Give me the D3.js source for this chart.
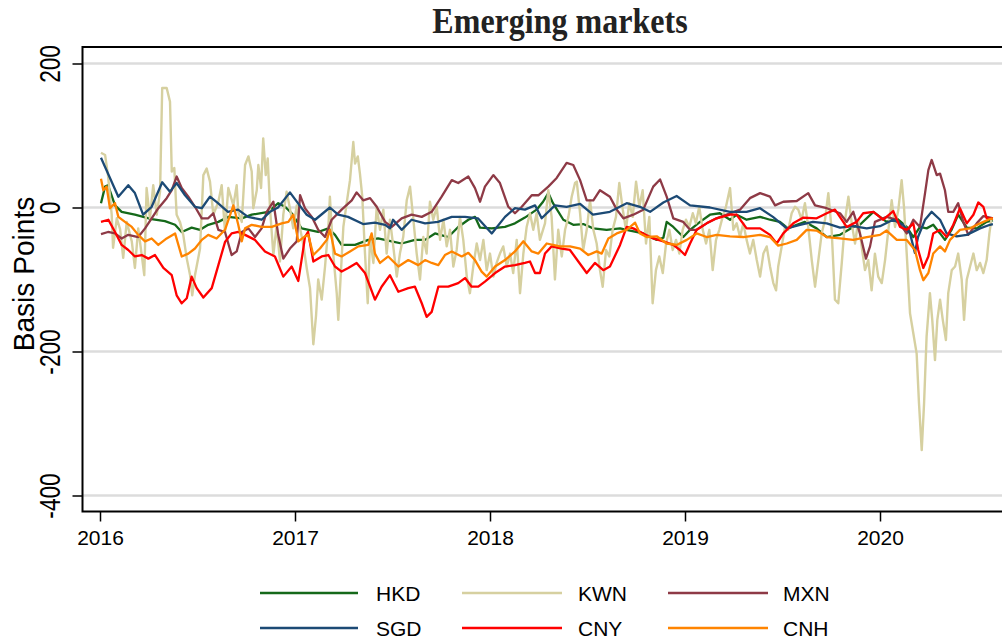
<!DOCTYPE html>
<html><head><meta charset="utf-8">
<script src="https://cdn.jsdelivr.net/npm/d3@7"></script>
<style>body{margin:0;background:#fff}svg{display:block}</style>
</head><body><svg id="c" width="1002" height="641"></svg>
<script>
const chartTitle = "Emerging markets";
const yTitle = "Basis Points";
const xTicks = [2016, 2017, 2018, 2019, 2020];
const xTickLabels = ["2016", "2017", "2018", "2019", "2020"];
const yTicks = [200, 0, -200, -400];
const yTickLabels = ["200", "0", "-200", "-400"];
const legendOrder = ["HKD", "KWN", "MXN", "SGD", "CNY", "CNH"];

const hkdT = [2016.005,2016.026,2016.041,2016.077,2016.111,2016.179,2016.222,2016.265,2016.333,2016.385,2016.419,2016.470,2016.513,2016.555,2016.607,2016.658,2016.727,2016.778,2016.863,2016.914,2016.949,2016.983,
2017.034,2017.118,2017.171,2017.205,2017.239,2017.308,2017.376,2017.426,2017.496,2017.547,2017.615,2017.667,2017.718,2017.786,2017.837,2017.889,2017.923,2017.949,
2018.009,2018.077,2018.128,2018.179,2018.239,2018.272,2018.299,2018.323,2018.376,2018.427,2018.478,2018.530,2018.598,2018.667,2018.718,2018.786,2018.855,2018.889,2018.906,2018.940,2018.991,
2019.026,2019.077,2019.128,2019.179,2019.231,2019.265,2019.316,2019.385,2019.436,2019.487,2019.528,2019.573,2019.615,2019.675,2019.727,2019.795,2019.863,2019.897,2019.966,
2020.034,2020.086,2020.137,2020.171,2020.205,2020.239,2020.273,2020.308,2020.333,2020.367,2020.401,2020.445,2020.496,2020.547,2020.579];
const hkdV = [6,29,31,3,-6,-10,-13,-16,-19,-24,-34,-28,-31,-24,-20,-13,-15,-10,-6,6,1,-8,
-29,-34,-29,-38,-52,-52,-45,-43,-47,-50,-45,-45,-36,-41,-27,-17,-13,-28,
-29,-27,-22,-14,-3,8,20,6,-17,-24,-23,-29,-31,-29,-32,-36,-45,-42,-20,-27,-41,
-31,-20,-10,-8,-17,-10,-17,-13,-17,-20,-29,-24,-20,-29,-41,-38,-27,-24,-6,
-20,-15,-27,-41,-27,-29,-24,-36,-45,-31,-10,-28,-29,-20,-18];

const sgdT = [2016.005,2016.094,2016.145,2016.179,2016.221,2016.265,2016.319,2016.359,2016.393,2016.436,2016.487,2016.522,2016.564,2016.605,2016.656,2016.708,2016.759,2016.829,2016.872,2016.913,2016.974,
2017.015,2017.060,2017.103,2017.179,2017.221,2017.272,2017.349,2017.410,2017.462,2017.487,2017.503,2017.547,2017.598,2017.667,2017.733,2017.804,2017.872,2017.938,
2018.009,2018.077,2018.128,2018.179,2018.231,2018.265,2018.333,2018.393,2018.462,2018.528,2018.615,2018.701,2018.769,2018.821,2018.889,2018.957,
2019.026,2019.128,2019.231,2019.316,2019.385,2019.451,2019.522,2019.590,2019.656,2019.727,2019.795,2019.862,2019.932,
2020.000,2020.067,2020.118,2020.154,2020.179,2020.195,2020.231,2020.265,2020.308,2020.342,2020.393,2020.445,2020.513,2020.564,2020.579];
const sgdV = [69,15,31,20,-10,1,35,22,34,17,1,-1,15,6,-6,-3,-13,-17,-6,0,21,
6,-10,-17,0,-10,-13,-23,-21,-24,-29,-17,-31,-17,-22,-20,-13,-13,-15,
-36,-13,-1,-3,3,-15,3,1,5,-10,-6,6,1,-6,7,16,
3,0,-6,-6,-1,-13,-29,-24,-20,-22,-28,-26,-29,
-26,-17,-24,-36,-63,-41,-17,-6,-17,-36,-40,-38,-29,-24,-23];

const mxnT = [2016.005,2016.041,2016.077,2016.111,2016.145,2016.196,2016.231,2016.265,2016.299,2016.342,2016.368,2016.393,2016.419,2016.453,2016.487,2016.522,2016.555,2016.581,2016.607,2016.641,2016.675,2016.701,2016.727,2016.761,2016.795,2016.829,2016.855,2016.889,2016.914,2016.940,2016.974,
2017.009,2017.026,2017.051,2017.086,2017.119,2017.154,2017.188,2017.239,2017.291,2017.316,2017.350,2017.385,2017.419,2017.462,2017.496,2017.547,2017.598,2017.650,2017.701,2017.752,2017.804,2017.837,2017.889,2017.923,2017.949,2017.974,
2018.017,2018.051,2018.094,2018.128,2018.163,2018.214,2018.248,2018.299,2018.342,2018.393,2018.427,2018.462,2018.496,2018.530,2018.564,2018.615,2018.650,2018.684,2018.735,2018.786,2018.837,2018.872,2018.906,2018.940,2018.991,
2019.026,2019.060,2019.111,2019.162,2019.231,2019.282,2019.333,2019.385,2019.436,2019.462,2019.504,2019.573,2019.632,2019.667,2019.727,2019.795,2019.829,2019.863,2019.897,2019.928,2019.949,2019.974,
2020.034,2020.086,2020.137,2020.171,2020.205,2020.231,2020.248,2020.265,2020.291,2020.308,2020.333,2020.350,2020.376,2020.401,2020.427,2020.453,2020.496,2020.530,2020.564,2020.579];
const mxnV = [-37,-34,-36,-43,-38,-41,-29,-15,-1,13,24,43,27,15,1,-15,-15,-8,-31,-34,-66,-61,-34,-29,-41,-29,-6,8,-38,-71,-57,
-47,17,-1,-13,-31,-41,-17,-3,10,21,10,13,1,-20,-27,-15,-10,-13,-6,15,38,34,43,27,8,29,
45,34,1,-8,1,17,17,29,41,62,59,38,10,10,24,15,-3,-15,-10,-3,29,39,15,-15,-20,
-31,-31,-22,-15,-8,-3,13,20,15,3,8,9,20,3,-1,-8,-20,-6,-36,-71,-54,-20,
-13,-17,-36,-17,-27,20,52,66,45,47,24,-6,-6,6,-20,-38,-22,-12,-14,-15];

const cnyT = [2016.005,2016.043,2016.077,2016.111,2016.145,2016.179,2016.214,2016.248,2016.282,2016.325,2016.368,2016.393,2016.419,2016.445,2016.470,2016.496,2016.530,2016.573,2016.607,2016.641,2016.675,2016.709,2016.744,2016.795,2016.846,2016.897,2016.940,2016.983,
2017.017,2017.041,2017.051,2017.067,2017.094,2017.137,2017.171,2017.205,2017.239,2017.273,2017.316,2017.359,2017.410,2017.444,2017.487,2017.530,2017.581,2017.615,2017.650,2017.675,2017.701,2017.735,2017.786,2017.837,2017.872,2017.906,2017.940,2017.974,
2018.026,2018.077,2018.128,2018.179,2018.205,2018.231,2018.256,2018.282,2018.316,2018.368,2018.410,2018.453,2018.496,2018.538,2018.581,2018.615,2018.667,2018.701,2018.735,2018.786,2018.837,2018.889,2018.940,2018.974,
2019.000,2019.026,2019.060,2019.111,2019.162,2019.231,2019.265,2019.316,2019.385,2019.436,2019.470,2019.504,2019.555,2019.607,2019.675,2019.727,2019.769,2019.829,2019.880,2019.914,2019.966,
2020.017,2020.068,2020.103,2020.137,2020.171,2020.196,2020.222,2020.248,2020.273,2020.308,2020.342,2020.376,2020.410,2020.445,2020.479,2020.504,2020.530,2020.547,2020.579];
const cnyV = [-20,-17,-34,-52,-59,-68,-66,-71,-66,-84,-94,-122,-133,-126,-96,-112,-125,-112,-80,-48,-36,-34,-38,-45,-61,-68,-96,-82,
-102,-60,-41,-34,-75,-68,-66,-82,-89,-84,-77,-91,-128,-110,-94,-117,-112,-110,-133,-152,-145,-110,-110,-105,-98,-110,-110,-103,
-91,-82,-80,-77,-75,-91,-91,-64,-54,-57,-59,-75,-91,-77,-87,-82,-52,-27,-29,-36,-43,-47,-52,-59,
-66,-50,-31,-22,-15,-10,-10,-29,-29,-38,-50,-36,-22,-14,-15,-8,-3,-27,-20,-8,-6,
-17,-5,-27,-31,-22,-59,-84,-68,-36,-31,-41,-24,-1,-22,-10,7,1,-15,-15];

const cnhT = [2016.005,2016.017,2016.034,2016.051,2016.077,2016.094,2016.128,2016.163,2016.196,2016.231,2016.265,2016.299,2016.342,2016.385,2016.419,2016.453,2016.487,2016.522,2016.555,2016.598,2016.641,2016.684,2016.709,2016.727,2016.744,2016.778,2016.829,2016.881,2016.932,2016.966,2016.991,
2017.017,2017.051,2017.068,2017.094,2017.128,2017.163,2017.179,2017.205,2017.239,2017.282,2017.325,2017.376,2017.393,2017.410,2017.436,2017.478,2017.530,2017.581,2017.632,2017.667,2017.701,2017.735,2017.769,2017.804,2017.855,2017.889,2017.923,2017.957,2017.983,
2018.026,2018.077,2018.128,2018.171,2018.214,2018.248,2018.291,2018.359,2018.410,2018.462,2018.504,2018.547,2018.573,2018.607,2018.650,2018.701,2018.744,2018.769,2018.804,2018.855,2018.906,2018.957,
2019.009,2019.060,2019.111,2019.162,2019.231,2019.299,2019.385,2019.436,2019.478,2019.522,2019.573,2019.624,2019.675,2019.727,2019.795,2019.863,2019.932,
2020.000,2020.034,2020.086,2020.137,2020.179,2020.205,2020.222,2020.248,2020.273,2020.308,2020.333,2020.359,2020.410,2020.462,2020.513,2020.564,2020.579];
const cnhV = [40,24,29,-1,6,-13,-20,-27,-38,-47,-43,-52,-43,-36,-68,-64,-57,-45,-38,-43,-31,3,-24,-47,-29,-24,-27,-27,-22,-20,-10,
-47,-40,-38,-66,-57,-45,-31,-64,-68,-61,-54,-52,-36,-64,-77,-68,-82,-73,-80,-73,-77,-80,-66,-61,-68,-63,-73,-89,-96,
-82,-73,-61,-47,-61,-64,-50,-54,-54,-57,-66,-61,-64,-43,-36,-31,-21,-36,-41,-40,-50,-52,
-45,-36,-41,-38,-40,-41,-38,-41,-53,-50,-45,-31,-32,-41,-43,-45,-41,
-38,-32,-45,-45,-59,-87,-101,-91,-64,-54,-61,-45,-31,-29,-22,-16,-15];

const kwnT = [2016.005,2016.026,2016.041,2016.060,2016.067,2016.086,2016.103,2016.119,2016.137,2016.163,
2016.179,2016.196,2016.214,2016.227,2016.239,2016.256,2016.273,2016.291,2016.308,2016.319,
2016.342,2016.359,2016.368,2016.381,2016.393,2016.410,2016.427,2016.445,2016.462,2016.473,
2016.487,2016.513,2016.530,2016.547,2016.564,2016.581,2016.607,2016.624,2016.641,2016.658,
2016.684,2016.701,2016.709,2016.727,2016.744,2016.761,2016.778,2016.786,2016.804,2016.812,
2016.826,2016.837,2016.850,2016.860,2016.872,2016.889,2016.906,2016.923,2016.940,2016.957,
2016.974,2016.991,2017.009,2017.026,2017.043,2017.060,2017.077,2017.094,2017.108,2017.119,
2017.137,2017.154,2017.171,2017.179,2017.196,2017.214,2017.222,2017.236,2017.248,2017.265,
2017.282,2017.299,2017.308,2017.322,2017.333,2017.345,2017.359,2017.373,2017.385,2017.402,
2017.419,2017.436,2017.453,2017.470,2017.487,2017.504,2017.522,2017.538,2017.555,2017.573,
2017.590,2017.607,2017.624,2017.641,2017.658,2017.675,2017.692,2017.709,2017.727,2017.744,
2017.761,2017.778,2017.795,2017.812,2017.829,2017.846,2017.863,2017.881,2017.897,2017.914,
2017.932,2017.949,2017.966,2017.983,2018.000,2018.017,2018.034,2018.051,2018.068,2018.086,
2018.103,2018.119,2018.137,2018.154,2018.171,2018.188,2018.205,2018.222,2018.239,2018.256,
2018.282,2018.299,2018.316,2018.333,2018.350,2018.368,2018.385,2018.402,2018.419,2018.436,
2018.445,2018.462,2018.478,2018.496,2018.513,2018.530,2018.547,2018.564,2018.578,2018.595,
2018.612,2018.629,2018.646,2018.663,2018.681,2018.697,2018.714,2018.732,2018.749,2018.766,
2018.783,2018.800,2018.817,2018.834,2018.851,2018.868,2018.886,2018.903,2018.920,2018.937,
2018.954,2018.971,2018.988,2019.005,2019.022,2019.040,2019.056,2019.073,2019.091,2019.108,
2019.125,2019.142,2019.159,2019.176,2019.193,2019.210,2019.231,2019.248,2019.265,2019.282,
2019.299,2019.316,2019.333,2019.350,2019.368,2019.385,2019.402,2019.419,2019.436,2019.453,
2019.467,2019.478,2019.496,2019.513,2019.530,2019.547,2019.564,2019.581,2019.598,2019.615,
2019.632,2019.650,2019.667,2019.684,2019.701,2019.718,2019.735,2019.752,2019.769,2019.786,
2019.804,2019.821,2019.838,2019.855,2019.872,2019.889,2019.906,2019.923,2019.940,2019.957,
2019.974,2019.991,2020.009,2020.026,2020.043,2020.060,2020.077,2020.094,2020.111,2020.123,
2020.137,2020.154,2020.171,2020.188,2020.200,2020.214,2020.226,2020.239,2020.256,2020.268,
2020.282,2020.294,2020.308,2020.322,2020.338,2020.350,2020.368,2020.385,2020.401,2020.419,
2020.431,2020.445,2020.462,2020.479,2020.496,2020.513,2020.530,2020.547,2020.561,2020.573];
const kwnV = [76,73,45,-10,-56,-15,-30,-70,-20,-47,
-84,-29,-66,-94,27,-15,31,-10,22,166,
166,147,50,55,-10,-20,-38,-71,-94,-122,
-94,-57,45,54,36,-10,8,31,-34,27,
3,31,-6,-20,59,71,50,-1,24,59,
27,96,45,68,-1,-66,-24,-75,-10,22,
-1,-29,3,-29,-52,-84,-112,-190,-150,-100,
-128,-82,-27,15,-64,-119,-156,-87,-27,6,
38,91,61,71,47,15,-64,-133,-41,-77,
1,-31,-3,-64,-17,-54,-96,-64,-41,10,
29,-17,-64,-100,-41,-64,8,-17,1,-45,
-17,-54,-31,-82,-59,-13,-45,-96,-119,-82,
-50,-73,-45,-87,-64,-96,-77,-64,-54,-82,
-64,-91,-45,-119,-64,-27,-8,-31,-8,-45,
-22,24,-13,-100,-31,-68,-31,-13,15,34,
36,-8,-59,-31,10,-31,-50,-87,-110,-59,
-68,-31,-13,34,-3,-31,6,-13,36,1,
24,-50,-13,-133,-87,-68,-91,-50,-31,-59,
-45,-64,-31,-17,-27,-8,-22,1,-31,-50,
-31,-87,-45,-31,-13,1,27,-31,-22,-41,
-22,-45,-64,-45,-73,-96,-64,-54,-82,-105,
-115,-82,-54,-27,-31,-8,1,-3,-17,6,
-27,-73,-110,-73,-36,-17,20,-31,-128,-133,
-77,-17,15,-22,-50,-17,-54,-87,-73,-115,
-64,-96,-105,-73,-31,10,-27,-3,38,1,
-64,-147,-175,-203,-272,-337,-272,-179,-119,-156,
-212,-156,-128,-156,-184,-119,-87,-82,-64,-100,
-156,-100,-82,-64,-87,-77,-91,-73,-36,-13];

const seriesColors = {HKD: "#15691a", KWN: "#d6d0a0", MXN: "#8e3a46", SGD: "#1c4a75", CNY: "#ff0000", CNH: "#ff8400"};
const seriesData = {
  HKD: [hkdT, hkdV], KWN: [kwnT, kwnV], MXN: [mxnT, mxnV],
  SGD: [sgdT, sgdV], CNY: [cnyT, cnyV], CNH: [cnhT, cnhV]
};

const svg = d3.select("#c");
const frame = {left: 82.5, right: 1008, top: 47, bottom: 511.5};
const x = d3.scaleLinear().domain([2016, 2020]).range([100, 880]);
const y = d3.scaleLinear().domain([-400, 200]).range([495.5, 63.5]);

// gridlines
svg.append("g").selectAll("line").data(yTicks).join("line")
  .attr("x1", frame.left).attr("x2", frame.right)
  .attr("y1", d => y(d)).attr("y2", d => y(d))
  .attr("stroke", "#dcdcdc").attr("stroke-width", 2.5);

// series
const line = d3.line().x(d => x(d[0])).y(d => y(d[1]));
const gLines = svg.append("g");
legendOrder.forEach(name => {
  const [t, v] = seriesData[name];
  gLines.append("path").datum(d3.zip(t, v)).attr("d", line)
    .attr("fill", "none").attr("stroke", seriesColors[name])
    .attr("stroke-width", name === "KWN" ? 2.4 : 2.3).attr("stroke-linejoin", "round");
});

// frame
svg.append("rect").attr("x", frame.left).attr("y", frame.top)
  .attr("width", frame.right - frame.left).attr("height", frame.bottom - frame.top)
  .attr("fill", "none").attr("stroke", "#000").attr("stroke-width", 2);

// y axis
const gy = svg.append("g").attr("transform", `translate(${frame.left},0)`)
  .call(d3.axisLeft(y).tickValues(yTicks).tickSize(10).tickFormat((d, i) => yTickLabels[i]));
gy.select(".domain").remove();
gy.selectAll(".tick line").attr("stroke", "#000").attr("stroke-width", 1.5);
gy.selectAll(".tick text").attr("x", null).attr("dy", null).attr("text-anchor", "middle")
  .attr("transform", "translate(-22.5,0) rotate(-90) scale(0.78,1)")
  .attr("fill", "#000").style("font-family", "'Liberation Sans', Arial, sans-serif").style("font-size", "29px");

svg.append("text").text(yTitle)
  .attr("transform", "translate(33.5,274) rotate(-90) scale(0.97,1)")
  .attr("text-anchor", "middle").attr("fill", "#000")
  .style("font-family", "'Liberation Sans', Arial, sans-serif").style("font-size", "29px");

// x axis
const gx = svg.append("g").attr("transform", `translate(0,${frame.bottom})`)
  .call(d3.axisBottom(x).tickValues(xTicks).tickSize(10).tickFormat((d, i) => xTickLabels[i]));
gx.select(".domain").remove();
gx.selectAll(".tick line").attr("stroke", "#000").attr("stroke-width", 1.5);
gx.selectAll(".tick text").attr("y", 33).attr("dy", null).attr("fill", "#000")
  .style("font-family", "'Liberation Sans', Arial, sans-serif").style("font-size", "21px");

// title
svg.append("text").text(chartTitle)
  .attr("transform", "translate(560,33) scale(0.89,1)")
  .attr("text-anchor", "middle").attr("fill", "#222")
  .style("font-family", "'Liberation Serif', 'Times New Roman', serif")
  .style("font-weight", "bold").style("font-size", "36px");

// legend
const legCols = [{x1: 260, x2: 358, tx: 376}, {x1: 462, x2: 562, tx: 578}, {x1: 668, x2: 768, tx: 783}];
const legRows = [593, 628];
const gLeg = svg.append("g");
legendOrder.forEach((name, i) => {
  const c = legCols[i % 3], ry = legRows[Math.floor(i / 3)];
  gLeg.append("line").attr("x1", c.x1).attr("x2", c.x2).attr("y1", ry).attr("y2", ry)
    .attr("stroke", seriesColors[name]).attr("stroke-width", 2.5);
  gLeg.append("text").text(name).attr("x", c.tx).attr("y", ry).attr("dy", "0.36em")
    .attr("fill", "#000").style("font-family", "'Liberation Sans', Arial, sans-serif").style("font-size", "21px");
});
</script></body></html>
